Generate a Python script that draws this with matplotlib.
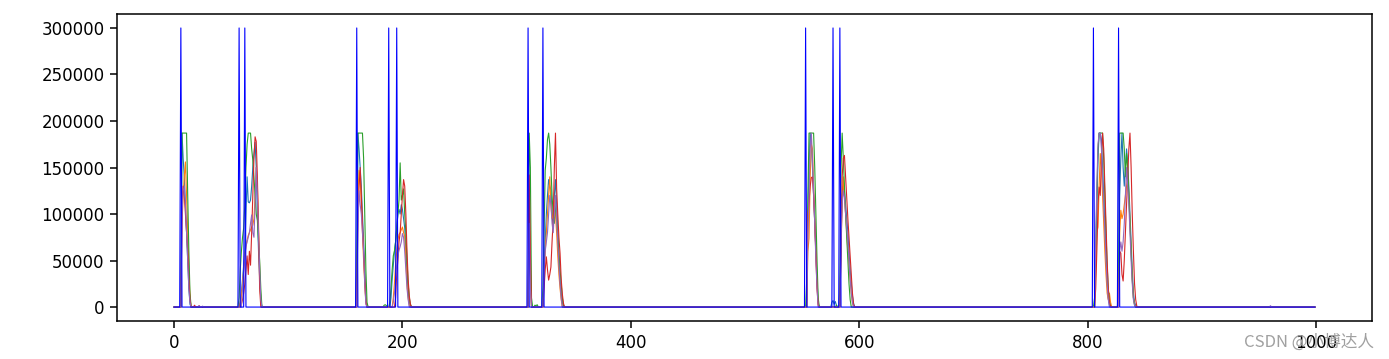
import numpy as np
import matplotlib
matplotlib.use('Agg')
import matplotlib.pyplot as plt

n_points = 1000

# blue spikes (single samples)
spike_idx = [6, 57, 62, 160, 188, 195, 310, 323, 553, 577, 583, 805, 827]
spike_val = 300000

# other series: {start index: values}
steel = {
    7: [187000, 160000, 140000, 110000, 80000, 50000, 20000, 3000],
    58: [5000, 15000, 30000, 45000, 60000, 100000, 140000, 113000, 112000, 115000, 130000, 150000,
         165000, 177000, 150000, 100000, 60000, 30000, 8000],
    161: [187000, 170000, 150000, 130000, 100000, 70000, 40000, 10000],
    190: [10000, 30000, 45000, 60000, 70000, 85000, 100000, 105000, 100000, 110000, 105000, 95000,
          85000, 60000, 35000, 15000, 5000],
    311: [120000, 40000],
    324: [40000, 70000, 100000, 120000, 137000, 130000, 126000, 100000, 86000, 120000, 137000, 110000,
          80000, 50000, 30000, 15000, 5000],
    555: [100000, 150000, 187000, 175000, 150000, 120000, 90000, 60000, 30000, 5000],
    576: [5000, 7000, 3000, 6000, 2000],
    584: [80000, 120000, 130000, 125000, 110000, 95000, 80000, 60000, 40000, 25000, 12000, 4000],
    807: [50000, 110000, 160000, 187000, 187000, 180000, 150000, 120000, 90000, 60000, 30000, 10000, 2000],
    828: [120000, 160000, 187000, 150000, 130000, 150000, 170000, 155000, 130000, 100000, 70000, 40000,
          15000, 5000, 2000],
}
orange = {
    7: [90000, 120000, 140000, 156000, 120000, 80000, 40000, 10000],
    58: [5000, 12000, 25000, 40000, 55000, 65000, 72000, 77000, 80000, 83000, 86000, 88000, 95000,
         120000, 150000, 130000, 90000, 40000, 5000],
    161: [120000, 147000, 140000, 110000, 80000, 50000, 25000, 5000],
    192: [10000, 25000, 45000, 60000, 72000, 78000, 80000, 83000, 86000, 80000, 76000, 50000, 25000,
          10000, 2000],
    311: [100000, 30000],
    324: [30000, 60000, 80000, 100000, 120000, 140000, 110000, 95000, 100000, 115000, 100000, 80000,
          55000, 35000, 20000, 8000],
    555: [60000, 74000, 140000, 175000, 170000, 130000, 95000, 60000, 25000, 3000],
    584: [60000, 110000, 140000, 120000, 100000, 80000, 60000, 45000, 30000, 15000, 5000],
    807: [40000, 80000, 86000, 130000, 165000, 150000, 120000, 90000, 60000, 35000, 15000, 8000,
          15000, 5000],
    828: [80000, 104000, 95000, 100000, 110000, 120000, 130000, 140000, 120000, 90000, 60000, 30000,
          10000, 3000],
}
green = {
    7: [187000, 187000, 187000, 187000, 187000, 120000, 60000, 15000],
    57: [10000, 40000, 60000, 75000, 85000, 110000, 150000, 175000, 187000, 187000, 187000, 170000,
         158000, 140000, 120000, 100000, 93000, 70000, 50000, 20000],
    160: [40000, 187000, 187000, 187000, 187000, 187000, 160000, 100000, 40000, 5000],
    184: [2000, 2500, 1500, 0, 0, 5000, 20000, 40000, 55000, 60000, 70000, 85000, 100000, 115000,
          155000, 115000, 120000, 127000, 100000, 80000, 50000, 25000, 10000, 3000],
    311: [187000, 150000, 10000],
    316: [2000, 1500, 2500],
    323: [20000, 80000, 147000, 160000, 180000, 187000, 175000, 150000, 120000, 100000, 90000, 110000,
          100000, 80000, 60000, 40000, 25000, 10000, 2000],
    554: [30000, 120000, 187000, 187000, 187000, 187000, 187000, 150000, 100000, 50000, 10000],
    580: [2000],
    583: [20000, 150000, 187000, 160000, 130000, 100000, 75000, 50000, 25000, 8000],
    806: [10000, 60000, 120000, 170000, 187000, 187000, 187000, 187000, 160000, 120000, 80000, 45000,
          20000, 5000, 1000],
    827: [30000, 187000, 187000, 187000, 187000, 170000, 140000, 165000, 150000, 120000, 90000, 60000,
          30000, 10000, 2000],
}
red = {
    7: [110000, 130000, 120000, 100000, 80000, 60000, 30000, 8000],
    18: [2000, 0, 0, 0, 1500],
    59: [3000, 8000, 15000, 25000, 40000, 55000, 35000, 60000, 45000, 80000, 120000, 160000, 183000,
         178000, 140000, 80000, 20000],
    161: [100000, 128000, 150000, 120000, 90000, 60000, 30000, 5000],
    194: [10000, 36000, 50000, 70000, 80000, 100000, 120000, 137000, 130000, 100000, 60000, 30000,
          12000, 3000],
    311: [142000, 60000],
    324: [20000, 40000, 54000, 40000, 29000, 35000, 43000, 70000, 94000, 150000, 187000, 128000,
          100000, 75000, 58000, 30000, 14000, 4000],
    555: [100000, 113000, 130000, 139000, 140000, 120000, 90000, 55000, 20000, 2000],
    584: [60000, 140000, 160000, 163000, 140000, 115000, 95000, 75000, 55000, 35000, 15000, 3000],
    807: [20000, 60000, 110000, 129000, 120000, 160000, 187000, 170000, 130000, 90000, 50000, 20000,
          5000, 1000],
    828: [60000, 58000, 35000, 28000, 50000, 80000, 110000, 140000, 170000, 187000, 150000, 100000,
          60000, 25000, 8000, 1000],
}
purple = {
    7: [100000, 125000, 130000, 110000, 80000, 50000, 20000, 5000],
    22: [1500, 0, 0, 1000],
    60: [20000, 40000, 55000, 65000, 70000, 75000, 80000, 90000, 99000, 80000, 75000, 110000, 150000,
         120000, 80000, 40000, 8000],
    161: [80000, 125000, 110000, 100000, 80000, 60000, 25000, 3000],
    192: [5000, 15000, 30000, 45000, 55000, 61000, 65000, 70000, 79000, 75000, 60000, 40000, 20000, 8000],
    311: [90000, 20000],
    324: [40000, 60000, 70000, 80000, 100000, 120000, 110000, 90000, 80000, 100000, 120000, 95000,
          70000, 45000, 25000, 10000],
    555: [80000, 120000, 170000, 187000, 160000, 125000, 90000, 50000, 20000],
    584: [70000, 110000, 125000, 118000, 100000, 85000, 70000, 50000, 30000, 15000, 5000],
    807: [70000, 130000, 175000, 187000, 187000, 170000, 140000, 110000, 80000, 50000, 25000, 8000],
    828: [60000, 70000, 60000, 70000, 90000, 120000, 150000, 130000, 110000, 80000, 50000, 25000,
          8000, 2000],
    960: [1500],
}


def build(segments):
    arr = np.zeros(n_points)
    for start, vals in segments.items():
        arr[start:start + len(vals)] = vals
    return arr


x = np.arange(n_points)
spikes = np.zeros(n_points)
spikes[spike_idx] = spike_val

fig = plt.figure(figsize=(13.89, 3.59), dpi=100)
ax = fig.add_axes([0.0842, 0.1058, 0.9036, 0.8552])

lw = 0.8
ax.plot(x, build(steel), color='C0', lw=lw)
ax.plot(x, build(orange), color='C1', lw=lw)
ax.plot(x, build(green), color='C2', lw=lw)
ax.plot(x, build(red), color='C3', lw=lw)
ax.plot(x, build(purple), color='C4', lw=lw)
ax.plot(x, spikes, color='b', lw=lw)

for s in ax.spines.values():
    s.set_linewidth(1.1)
ax.tick_params(labelsize=12, length=5, width=1.1, pad=4)
ax.set_xticks([0, 200, 400, 600, 800, 1000])
ax.set_yticks([0, 50000, 100000, 150000, 200000, 250000, 300000])

fig.text(0.989, 0.022, 'CSDN @小博达人', ha='right', va='bottom', fontsize=12, color='#a0a0a0',
         family=['Noto Sans CJK SC', 'DejaVu Sans'])

fig.savefig('out.png', dpi=100)
